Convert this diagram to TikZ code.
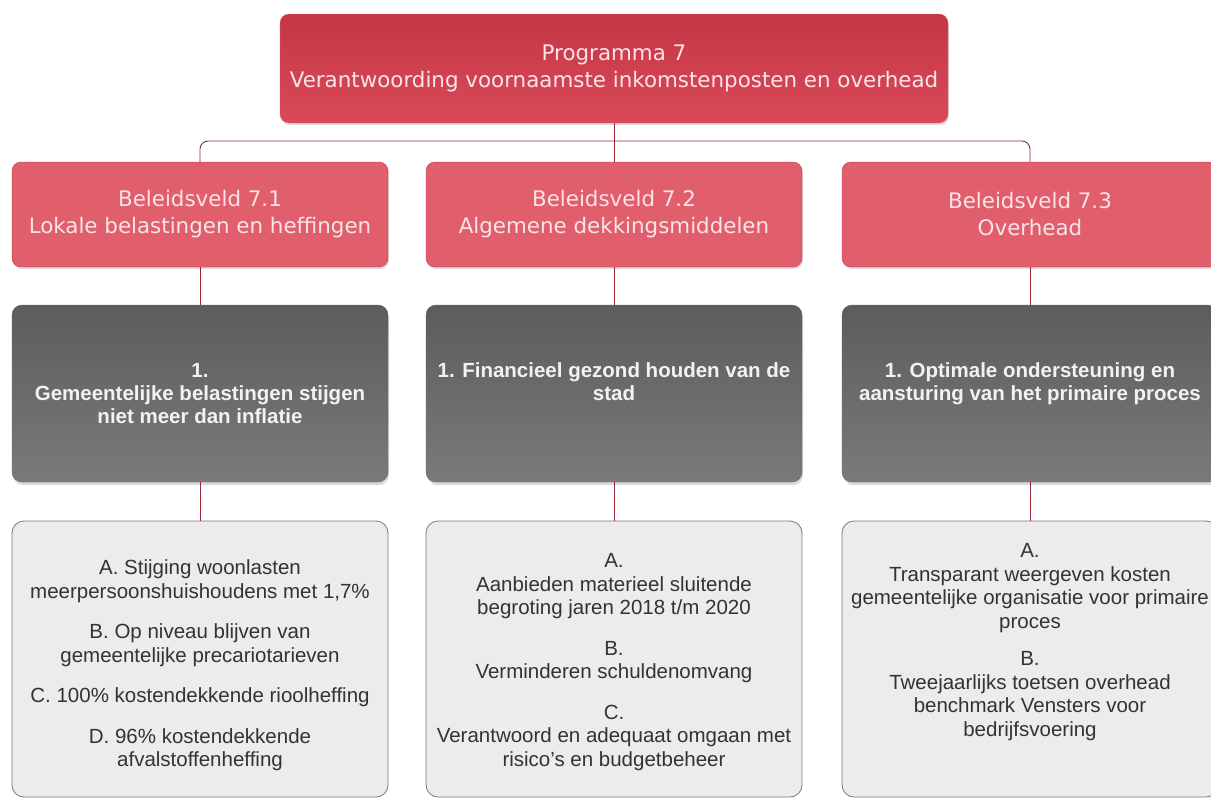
\documentclass[tikz,border=0pt]{standalone}
\usepackage{fontspec}
\setmainfont{Liberation Sans}
\newfontfamily\headfont{DejaVu Sans}
\usepackage{xcolor}
\usepackage{tikz}
\definecolor{progred}{RGB}{214, 58, 75}
\definecolor{veldred}{RGB}{225, 94, 108}
\definecolor{veldborder}{RGB}{196, 52, 68}
\definecolor{goaltop}{RGB}{92, 92, 92}
\definecolor{goalbottom}{RGB}{122, 122, 122}
\definecolor{linkred}{RGB}{150, 40, 56}
\definecolor{actfill}{RGB}{236, 236, 236}
\definecolor{actborder}{RGB}{120, 120, 120}
\definecolor{pinktext}{RGB}{250, 228, 230}
\usetikzlibrary{positioning, shadows}

\begin{document}
\begin{tikzpicture}[
    x=1pt, y=-1pt,
    node distance=0pt,
    prog/.style={rectangle, rounded corners=9pt, draw=progred!75!white, top color=progred!92!black, bottom color=progred!92!white, minimum width=668pt, minimum height=109pt, align=center, text=pinktext, font=\headfont\fontsize{21.4}{26.5}\selectfont, drop shadow={opacity=0.25, shadow xshift=1pt, shadow yshift=-2pt}},
    veld/.style={rectangle, rounded corners=9pt, draw=veldborder, fill=veldred, minimum width=376pt, minimum height=105pt, align=center, text=pinktext, font=\headfont\fontsize{21.4}{27}\selectfont, drop shadow={opacity=0.25, shadow xshift=1pt, shadow yshift=-2pt}},
    goal/.style={rectangle, rounded corners=10pt, draw=black!60, top color=goaltop, bottom color=goalbottom, minimum width=376pt, minimum height=177pt, align=center, text=white!90!gray, font=\bfseries\fontsize{20.5}{23}\selectfont, drop shadow={opacity=0.3, shadow xshift=1pt, shadow yshift=-3pt}},
    act/.style={rectangle, rounded corners=12pt, draw=actborder, line width=0.8pt, fill=actfill, minimum width=376pt, minimum height=276pt},
    acttext/.style={inner sep=0pt, align=center, text=black!80, font=\fontsize{20.5}{23.5}\selectfont},
    link/.style={draw=linkred, line width=0.9pt}
]
    \useasboundingbox (0,0) rectangle (1211,798);
    \clip (0,0) rectangle (1211,798);

    \node[prog] (prog) at (614,68.5) {Programma 7\\Verantwoording voornaamste inkomstenposten en overhead};
    \coordinate (split) at (614,141);

    \node[veld] (bv1) at (200,214.5) {Beleidsveld 7.1\\Lokale belastingen en heffingen};
    \node[veld] (bv2) at (614,214.5) {Beleidsveld 7.2\\Algemene dekkingsmiddelen};
    \node[veld] (bv3) at (1030,214.5) {Beleidsveld 7.3\\Overhead};

    \node[goal] (goal1) at (200,393.5) {1.\\Gemeentelijke belastingen stijgen\\niet meer dan inflatie};
    \node[goal] (goal2) at (614,393.5) {1. Financieel gezond houden van de\\stad\\[0pt]\mbox{}};
    \node[goal] (goal3) at (1030,393.5) {1. Optimale ondersteuning en\\aansturing van het primaire proces\\[0pt]\mbox{}};

    \node[act] (act1) at (200,659) {};
    \node[act] (act2) at (614,659) {};
    \node[act] (act3) at (1030,659) {};

    \node[acttext, below=39pt of act1.north] (act1text) {A. Stijging woonlasten\\meerpersoonshuishoudens met 1,7\%\\[17pt]B. Op niveau blijven van\\gemeentelijke precariotarieven\\[17pt]C. 100\% kostendekkende rioolheffing\\[17pt]D. 96\% kostendekkende\\afvalstoffenheffing};
    \node[acttext, below=33pt of act2.north] (act2text) {A.\\Aanbieden materieel sluitende\\begroting jaren 2018 t/m 2020\\[17pt]B.\\Verminderen schuldenomvang\\[17pt]C.\\Verantwoord en adequaat omgaan met\\risico's en budgetbeheer};
    \node[acttext, below=23pt of act3.north] (act3text) {A.\\Transparant weergeven kosten\\gemeentelijke organisatie voor primaire\\proces\\[14pt]B.\\Tweejaarlijks toetsen overhead\\benchmark Vensters voor\\bedrijfsvoering};

    \draw[link] (prog.south) -- (bv2.north);
    \draw[link, rounded corners=8pt] (bv1.north) |- (split) -| (bv3.north);
    \draw[link] (bv1.south) -- (goal1.north);
    \draw[link] (bv2.south) -- (goal2.north);
    \draw[link] (bv3.south) -- (goal3.north);
    \draw[link] (goal1.south) -- (act1.north);
    \draw[link] (goal2.south) -- (act2.north);
    \draw[link] (goal3.south) -- (act3.north);

\end{tikzpicture}
\end{document}
